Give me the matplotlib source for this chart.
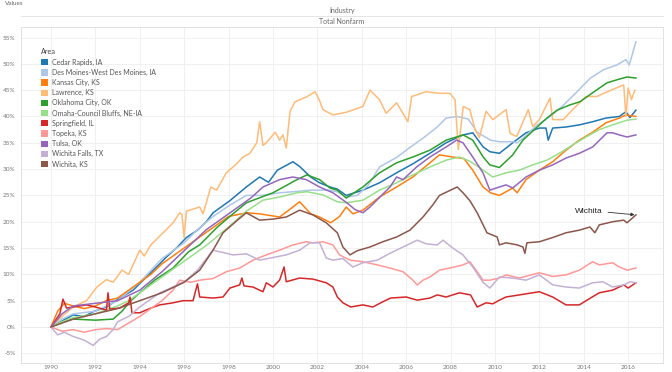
import matplotlib.pyplot as plt
from matplotlib.patches import Patch
from matplotlib.lines import Line2D
from matplotlib.ticker import FuncFormatter

# (year, % change since 1990)
cedar = [(1990.0, 0.0), (1991.0, 2.3), (1991.5, 2.0), (1991.9, 2.9), (1992.5, 3.8), (1993.1, 5.5),
         (1993.7, 7.0), (1994.3, 9.5), (1994.9, 12.0), (1995.2, 13.3), (1995.7, 15.2), (1996.1, 17.0),
         (1996.6, 18.4), (1997.0, 20.0), (1997.3, 21.7), (1998.06, 24.0), (1998.8, 26.6), (1999.4, 28.5),
         (1999.8, 27.5), (2000.2, 29.8), (2000.9, 31.4), (2001.2, 30.5), (2001.7, 28.5), (2002.1, 27.4),
         (2002.57, 26.6), (2002.9, 26.2), (2003.3, 25.0), (2004.05, 26.0), (2004.8, 27.4), (2005.57, 29.3),
         (2006.3, 31.0), (2007.07, 33.0), (2007.8, 35.0), (2008.57, 36.5), (2009.0, 36.9), (2009.47, 34.2),
         (2009.77, 33.3), (2010.2, 33.0), (2010.8, 35.0), (2011.4, 36.9), (2012.0, 37.8), (2012.3, 37.8),
         (2012.4, 35.5), (2012.6, 37.8), (2013.2, 38.0), (2013.8, 38.4), (2014.4, 39.0), (2015.0, 39.7),
         (2015.6, 40.0), (2015.9, 40.9), (2016.08, 39.8), (2016.35, 41.2)]

desmoines = [(1990.0, 0.0), (1990.5, 1.5), (1991.0, 2.5), (1992.0, 3.0), (1993.0, 5.0), (1994.0, 8.5),
             (1995.0, 13.0), (1996.0, 16.0), (1996.6, 18.5), (1997.3, 21.0), (1998.0, 23.0), (1998.8, 25.0),
             (1999.5, 25.0), (2000.3, 25.5), (2000.9, 25.7), (2001.7, 26.0), (2002.5, 26.0), (2002.9, 25.7),
             (2003.3, 24.7), (2003.8, 25.0), (2004.3, 27.0), (2004.8, 30.4), (2005.6, 32.3), (2006.2, 34.2),
             (2006.8, 36.0), (2007.4, 38.0), (2007.8, 39.7), (2008.3, 40.0), (2008.8, 39.5), (2009.2, 37.0),
             (2009.8, 35.5), (2010.2, 35.2), (2010.8, 35.2), (2011.0, 35.0), (2011.3, 36.0), (2011.9, 38.4),
             (2012.5, 40.0), (2013.1, 42.2), (2013.7, 44.7), (2014.3, 47.3), (2014.9, 48.9), (2015.5, 49.8),
             (2015.9, 50.8), (2016.05, 49.8), (2016.35, 54.2)]

kansascity = [(1990.0, 0.0), (1990.3, 3.0), (1990.6, 4.5), (1991.0, 4.0), (1991.5, 3.5), (1992.0, 4.0),
              (1992.5, 5.0), (1993.0, 5.5), (1993.5, 7.0), (1994.0, 8.5), (1994.5, 10.0), (1995.0, 12.0),
              (1995.5, 13.5), (1996.0, 15.0), (1996.5, 16.5), (1997.0, 18.0), (1997.5, 19.5), (1998.0, 21.0),
              (1998.8, 21.7), (1999.4, 21.5), (2000.3, 20.9), (2000.9, 22.8), (2001.2, 23.8), (2001.7, 21.5),
              (2002.1, 20.9), (2002.6, 19.8), (2003.0, 21.0), (2003.3, 22.8), (2003.6, 21.5), (2004.05, 22.2),
              (2004.8, 24.7), (2005.57, 26.6), (2006.3, 28.5), (2007.07, 31.2), (2007.5, 32.7), (2008.1, 32.3),
              (2008.6, 32.0), (2009.0, 29.8), (2009.46, 26.6), (2009.8, 25.5), (2010.2, 25.0), (2010.8, 26.4),
              (2011.0, 25.5), (2011.4, 28.0), (2012.0, 29.8), (2012.6, 31.4), (2013.2, 33.6), (2013.8, 35.5),
              (2014.4, 37.0), (2015.0, 38.8), (2015.6, 39.7), (2015.9, 40.3), (2016.35, 40.0)]

lawrence = [(1990.0, 0.0), (1990.5, 2.0), (1991.0, 3.8), (1991.6, 5.0), (1992.07, 7.6), (1992.5, 9.0),
            (1992.8, 8.5), (1993.2, 10.8), (1993.5, 10.0), (1994.0, 14.6), (1994.2, 13.5), (1994.5, 15.6),
            (1995.05, 17.9), (1995.5, 19.8), (1995.8, 21.7), (1995.9, 21.4), (1996.0, 17.0), (1996.1, 22.0),
            (1996.7, 22.8), (1996.85, 21.5), (1997.2, 26.6), (1997.46, 26.0), (1997.9, 29.3), (1998.36, 31.0),
            (1998.65, 32.3), (1998.96, 33.0), (1999.27, 35.0), (1999.4, 39.0), (1999.55, 34.5), (1999.7, 35.0),
            (2000.1, 37.0), (2000.3, 35.5), (2000.45, 36.5), (2000.6, 34.0), (2000.77, 41.0), (2001.0, 42.8),
            (2001.5, 43.7), (2001.9, 44.7), (2002.1, 43.0), (2002.25, 41.3), (2002.7, 40.3), (2003.3, 40.8),
            (2004.05, 41.9), (2004.37, 45.0), (2004.8, 43.2), (2005.1, 40.6), (2005.57, 42.6), (2006.08, 39.0),
            (2006.25, 43.8), (2006.9, 44.7), (2007.5, 44.4), (2007.97, 44.4), (2008.2, 43.2), (2008.35, 33.7),
            (2008.57, 41.9), (2008.87, 41.3), (2009.1, 37.5), (2009.3, 36.0), (2009.6, 41.0), (2009.9, 39.4),
            (2010.5, 41.3), (2010.68, 36.8), (2010.98, 36.2), (2011.5, 41.3), (2011.7, 38.1), (2012.0, 39.4),
            (2012.48, 43.5), (2012.6, 39.4), (2013.08, 39.4), (2013.5, 41.3), (2014.1, 43.8), (2014.6, 43.8),
            (2014.9, 44.4), (2015.8, 46.0), (2015.9, 40.0), (2016.0, 45.4), (2016.15, 43.2), (2016.3, 45.0)]

okc = [(1990.0, 0.0), (1990.5, 1.0), (1991.0, 1.5), (1992.0, 1.3), (1992.8, 1.5), (1993.2, 3.0),
       (1993.6, 5.0), (1994.0, 6.5), (1994.7, 9.0), (1995.5, 11.2), (1996.2, 14.3), (1996.7, 15.6),
       (1997.5, 19.0), (1998.2, 21.5), (1998.8, 23.6), (2000.0, 25.5), (2001.08, 28.0), (2001.53, 28.9),
       (2002.1, 28.0), (2002.57, 26.4), (2002.9, 26.0), (2003.3, 24.5), (2004.05, 26.6), (2004.8, 29.3),
       (2005.57, 31.2), (2006.3, 32.3), (2007.07, 33.6), (2007.8, 35.5), (2008.57, 36.5), (2009.0, 35.5),
       (2009.47, 32.3), (2009.77, 30.8), (2010.2, 30.3), (2010.8, 32.7), (2011.26, 35.5), (2011.9, 38.0),
       (2012.34, 39.7), (2012.8, 41.2), (2013.38, 42.2), (2013.83, 42.8), (2014.4, 44.5), (2015.05, 46.4),
       (2015.6, 47.1), (2015.95, 47.5), (2016.35, 47.3)]

omaha = [(1990.0, 0.0), (1990.5, 1.0), (1991.0, 1.8), (1992.0, 2.5), (1993.0, 4.0), (1993.5, 5.0),
         (1994.0, 6.5), (1995.0, 9.5), (1996.0, 12.5), (1997.0, 15.5), (1998.0, 19.0), (1998.8, 22.0),
         (1999.55, 24.1), (2000.3, 24.7), (2001.08, 25.5), (2001.53, 25.7), (2002.25, 25.1), (2002.9, 23.8),
         (2003.3, 23.6), (2004.05, 24.1), (2004.8, 26.0), (2005.57, 27.4), (2006.3, 28.9), (2007.07, 30.4),
         (2007.8, 31.7), (2008.4, 32.3), (2008.87, 31.5), (2009.3, 30.3), (2009.9, 28.5), (2010.5, 29.3),
         (2011.1, 29.8), (2011.7, 30.8), (2012.34, 31.7), (2012.9, 33.0), (2013.5, 34.6), (2014.1, 36.1),
         (2014.7, 37.5), (2015.3, 38.4), (2015.95, 39.3), (2016.35, 39.5)]

springfield = [(1990.0, 0.0), (1990.4, 2.5), (1990.54, 5.3), (1990.7, 3.6), (1991.0, 3.8), (1991.6, 4.2),
               (1992.0, 3.8), (1992.5, 3.2), (1992.57, 6.5), (1992.65, 3.4), (1993.1, 3.6), (1993.5, 4.6),
               (1993.56, 5.7), (1993.65, 2.7), (1994.0, 2.7), (1994.5, 3.6), (1994.9, 4.2), (1995.5, 4.6),
               (1995.95, 5.0), (1996.4, 5.0), (1996.6, 8.2), (1996.7, 5.7), (1997.3, 5.5), (1997.75, 5.7),
               (1998.06, 7.4), (1998.5, 8.0), (1998.6, 9.3), (1998.7, 7.8), (1999.1, 7.6), (1999.55, 6.7),
               (1999.7, 8.4), (2000.0, 7.6), (2000.3, 8.9), (2000.5, 11.4), (2000.6, 8.6), (2001.2, 9.3),
               (2001.8, 9.1), (2002.4, 8.4), (2002.7, 7.6), (2002.9, 5.7), (2003.15, 4.6), (2003.5, 3.8),
               (2004.05, 4.2), (2004.5, 3.8), (2004.95, 4.8), (2005.3, 5.5), (2006.0, 5.7), (2006.5, 5.1),
               (2007.07, 5.5), (2007.4, 6.1), (2007.8, 5.7), (2008.4, 6.5), (2008.9, 6.1), (2009.2, 3.8),
               (2009.6, 4.6), (2009.9, 4.4), (2010.2, 5.1), (2010.5, 5.7), (2011.1, 6.1), (2012.0, 6.7),
               (2012.6, 5.7), (2013.2, 4.2), (2013.8, 4.2), (2014.3, 5.5), (2014.7, 6.5), (2015.3, 7.0),
               (2015.8, 8.0), (2016.0, 7.4), (2016.35, 8.4)]

topeka = [(1990.0, 0.0), (1990.5, -0.8), (1991.0, -0.5), (1991.5, -1.0), (1992.0, -0.5), (1992.5, -0.3),
          (1993.0, -0.5), (1993.4, 0.5), (1994.0, 2.0), (1994.5, 3.5), (1995.0, 5.0), (1995.5, 7.0),
          (1995.8, 8.9), (1996.3, 8.5), (1996.7, 8.9), (1997.3, 9.2), (1997.9, 10.5), (1998.5, 11.2),
          (1999.1, 12.7), (1999.7, 13.7), (2000.3, 14.6), (2000.9, 15.6), (2001.5, 16.2), (2001.8, 16.0),
          (2002.25, 16.2), (2002.7, 15.6), (2003.0, 13.7), (2003.47, 12.7), (2004.05, 12.4), (2004.7, 11.8),
          (2005.27, 11.2), (2005.86, 10.5), (2006.3, 8.9), (2006.5, 8.0), (2006.76, 8.9), (2007.07, 9.5),
          (2007.5, 10.8), (2007.97, 11.2), (2008.56, 11.8), (2008.87, 12.4), (2009.2, 10.5), (2009.46, 8.9),
          (2009.77, 8.9), (2010.2, 9.3), (2010.5, 9.9), (2011.1, 9.3), (2012.0, 10.3), (2012.6, 9.6),
          (2013.2, 9.9), (2013.8, 10.8), (2014.4, 12.4), (2014.7, 11.8), (2015.3, 12.2), (2015.6, 11.4),
          (2015.95, 10.8), (2016.35, 11.2)]

tulsa = [(1990.0, 0.0), (1990.5, 2.5), (1991.0, 4.0), (1992.0, 4.5), (1993.0, 5.0), (1994.0, 7.0),
         (1995.0, 10.5), (1996.0, 14.5), (1997.0, 18.5), (1998.0, 21.5), (1999.0, 24.5), (1999.55, 26.6),
         (2000.3, 28.0), (2000.9, 28.5), (2001.5, 28.0), (2002.1, 26.6), (2002.7, 25.5), (2003.33, 23.6),
         (2003.7, 22.3), (2004.05, 21.7), (2004.37, 22.8), (2005.27, 26.6), (2005.57, 28.5), (2005.86, 28.0),
         (2006.47, 30.4), (2007.07, 32.3), (2007.8, 34.2), (2008.27, 35.5), (2008.56, 35.0), (2009.0, 32.3),
         (2009.46, 29.3), (2009.77, 26.0), (2010.2, 26.6), (2010.5, 27.0), (2010.8, 26.4), (2011.4, 28.5),
         (2012.0, 29.8), (2012.6, 30.8), (2013.2, 32.1), (2013.8, 33.0), (2014.4, 34.2), (2015.05, 36.9),
         (2015.3, 36.9), (2015.6, 36.5), (2015.95, 36.1), (2016.35, 36.5)]

wichitafalls = [(1990.0, 0.0), (1990.3, -1.5), (1990.6, -1.0), (1991.0, -1.8), (1991.5, -2.5), (1991.9, -3.5),
                (1992.2, -2.3), (1992.5, -1.8), (1992.8, -0.5), (1993.0, 1.0), (1993.5, 2.0), (1994.0, 3.8),
                (1994.9, 6.5), (1995.5, 7.6), (1996.1, 8.9), (1996.6, 10.8), (1997.3, 14.6), (1998.2, 13.7),
                (1998.8, 13.9), (1999.4, 12.7), (2000.0, 13.2), (2000.6, 13.7), (2001.2, 14.6), (2001.67, 16.0),
                (2002.1, 16.0), (2002.4, 13.1), (2002.7, 12.7), (2003.15, 13.0), (2003.6, 11.4), (2004.05, 12.2),
                (2004.7, 12.7), (2005.27, 14.0), (2005.86, 15.2), (2006.5, 16.5), (2006.9, 15.8), (2007.4, 15.6),
                (2007.66, 16.5), (2008.1, 15.0), (2008.56, 13.7), (2009.0, 11.4), (2009.46, 8.5), (2009.77, 7.4),
                (2010.2, 9.5), (2010.8, 9.3), (2011.4, 8.9), (2012.0, 9.9), (2012.6, 8.0), (2013.2, 7.6),
                (2013.8, 7.4), (2014.4, 8.4), (2014.86, 8.6), (2015.3, 7.6), (2015.8, 8.0), (2016.1, 8.6),
                (2016.35, 8.4)]

wichita = [(1990.0, 0.0), (1991.0, 1.5), (1992.0, 2.5), (1993.0, 3.5), (1994.0, 5.0), (1995.0, 6.5),
           (1996.0, 8.5), (1996.7, 10.8), (1997.3, 14.6), (1997.75, 17.9), (1998.4, 20.3), (1998.8, 21.7),
           (1999.4, 20.3), (2000.0, 20.5), (2000.6, 20.9), (2001.2, 22.2), (2001.8, 21.3), (2002.4, 19.8),
           (2002.9, 17.9), (2003.15, 15.2), (2003.47, 13.7), (2003.8, 14.5), (2004.37, 15.2), (2004.95, 16.2),
           (2005.57, 17.1), (2006.17, 18.4), (2006.76, 20.9), (2007.2, 23.2), (2007.5, 25.0), (2008.3, 26.6),
           (2008.56, 25.5), (2008.87, 24.0), (2009.2, 21.7), (2009.64, 17.9), (2010.1, 17.1), (2010.2, 15.6),
           (2010.5, 16.0), (2011.0, 15.6), (2011.26, 15.2), (2011.35, 14.0), (2011.44, 16.0), (2012.0, 16.2),
           (2012.6, 17.0), (2013.2, 17.9), (2013.8, 18.4), (2014.28, 19.0), (2014.5, 17.9), (2014.7, 19.4),
           (2015.3, 20.0), (2015.8, 20.3), (2015.95, 19.8), (2016.35, 21.3)]

areas = ['Cedar Rapids, IA', 'Des Moines-West Des Moines, IA', 'Kansas City, KS', 'Lawrence, KS',
         'Oklahoma City, OK', 'Omaha-Council Bluffs, NE-IA', 'Springfield, IL', 'Topeka, KS',
         'Tulsa, OK', 'Wichita Falls, TX', 'Wichita, KS']
series = [cedar, desmoines, kansascity, lawrence, okc, omaha, springfield, topeka,
          tulsa, wichitafalls, wichita]
colors = ['#1f77b4', '#aec7e8', '#ff7f0e', '#ffbb78', '#2ca02c', '#98df8a', '#d62728',
          '#ff9896', '#9467bd', '#c5b0d5', '#8c564b']
years = list(range(1990, 2017, 2))
pcts = list(range(-5, 56, 5))

plt.rcParams['font.family'] = ['Lato', 'DejaVu Sans']
W, H = 672, 372
fig = plt.figure(figsize=(W / 100, H / 100), dpi=100)
fig.set_facecolor('white')
ax = fig.add_axes([21 / W, 1 - 363 / H, (663 - 21) / W, (363 - 27) / H])

for name, pts, col in zip(areas, series, colors):
    t = [p[0] for p in pts]
    v = [p[1] for p in pts]
    ax.plot(t, v, color=col, lw=1.1, solid_joinstyle='round', zorder=3)

ax.set_xlim(1988.65, 2017.57)
ax.set_ylim(-6.84, 57.0)
ax.set_xticks(years)
ax.set_yticks(pcts)
ax.yaxis.set_major_formatter(FuncFormatter(lambda v, p: f'{v:.0f}%'))
ax.grid(True, color='#eeeeee', lw=0.6, zorder=0)
ax.axhline(0, color='#bdbdbd', lw=0.7, ls=(0, (1.5, 1.5)), zorder=1)
for s in ax.spines.values():
    s.set_color('#dddddd')
    s.set_linewidth(0.6)
ax.tick_params(axis='both', length=0, labelsize=4.6, labelcolor='#777777')
ax.tick_params(axis='y', pad=4)
ax.tick_params(axis='x', pad=1.2)

# legend
handles = [Patch(facecolor=c, edgecolor='none') for c in colors]
leg = ax.legend(handles, areas, loc='upper left', bbox_to_anchor=(38 / W, 1 - 45 / H),
                bbox_transform=fig.transFigure, frameon=False, fontsize=5, title='Area',
                title_fontsize=5.2, handlelength=1.0, handleheight=1.0, handletextpad=0.5,
                labelspacing=0.45, borderpad=0, alignment='left')
for txt in leg.get_texts():
    txt.set_color('#555555')
leg.get_title().set_color('#444444')

# annotation
ax.annotate('Wichita', xy=(wichita[-1][0], wichita[-1][1]), xytext=(2013.6, 21.9),
            fontsize=6, family='Liberation Sans', color='#222222', ha='left', va='center',
            arrowprops=dict(arrowstyle='-|>', color='#333333', lw=0.6, mutation_scale=5,
                            relpos=(1, 0.5), shrinkA=2, shrinkB=1))

# header
fig.text(342 / W, 1 - 10.7 / H, 'Industry', ha='center', va='center', fontsize=5, color='#666666')
fig.text(342 / W, 1 - 21.7 / H, 'Total Nonfarm', ha='center', va='center', fontsize=5, color='#666666')
fig.add_artist(Line2D([21 / W, 663 / W], [1 - 15.7 / H] * 2, color='#e0e0e0', lw=0.6))
fig.text(5 / W, 1 - 1 / H, 'Values', ha='left', va='top', fontsize=4.6, color='#666666')

fig.savefig('out.png', dpi=100, facecolor='white')
